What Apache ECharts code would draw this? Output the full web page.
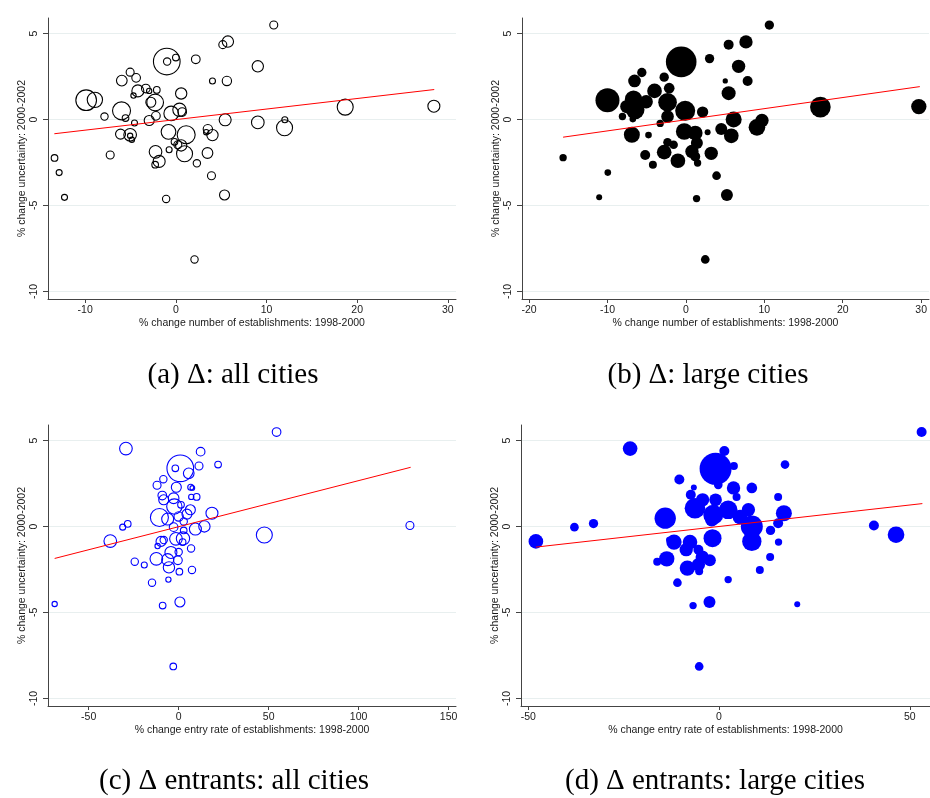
<!DOCTYPE html>
<html>
<head>
<meta charset="utf-8">
<title>Uncertainty and establishment dynamics</title>
<script src="https://cdn.jsdelivr.net/npm/echarts@6/dist/echarts.min.js"></script>
<style>
  html, body { margin: 0; padding: 0; background: #ffffff; }
  #chart { width: 930px; height: 798px; }
</style>
</head>
<body>
<div id="chart"></div>
<script>
// Each city: change in establishments (x), change in uncertainty (y), city weight (w)

// (a) all cities, change in number of establishments
const xA = [10.8, 5.74, 5.18, -1.0, -0.96, 0.0, 2.2, 9.04, -5.04, -4.38, -5.96, 4.04, 5.63, -3.31, -4.19, -2.94, -2.1, 0.59, -4.67, -9.89, -8.93, -2.28, -2.76, -5.99, -7.87, -5.55, -2.2, -0.51, 0.4, 0.7, -2.94, -4.56, 5.44, 9.04, 12.02, 11.99, 18.68, 28.46, -6.1, -5.04, -5.04, -4.85, -0.81, 1.14, 3.53, 3.35, 4.04, -0.15, 0.22, 0.59, -0.74, -2.24, 0.96, 3.49, -7.24, -13.38, -1.84, -2.28, 2.32, -12.87, 3.93, -12.28, -1.07, 5.37, 2.06];
const yA = [5.49, 4.53, 4.35, 3.37, 3.37, 3.6, 3.5, 3.09, 2.75, 2.42, 2.26, 2.24, 2.24, 1.8, 1.66, 1.66, 1.72, 1.51, 1.39, 1.12, 1.14, 0.99, 1.0, 0.5, 0.17, 0.08, 0.21, 0.35, 0.56, 0.43, -0.06, -0.21, -0.02, -0.17, -0.02, -0.48, 0.72, 0.77, -0.85, -0.89, -0.95, -1.18, -0.72, -0.89, -0.56, -0.74, -0.91, -1.3, -1.47, -1.51, -1.76, -1.88, -1.99, -1.95, -2.07, -2.24, -2.44, -2.63, -2.55, -3.09, -3.27, -4.53, -4.62, -4.39, -8.14];
const wA = [64, 128, 64, 711, 54, 44, 75, 128, 64, 75, 114, 36, 87, 75, 144, 28, 44, 128, 28, 427, 235, 278, 100, 324, 54, 44, 75, 215, 178, 75, 100, 36, 144, 160, 36, 256, 256, 144, 100, 160, 28, 28, 215, 324, 87, 28, 128, 44, 64, 128, 36, 160, 256, 114, 64, 44, 144, 44, 54, 36, 64, 36, 54, 100, 54];
const fitA = [[-13.4, -0.83], [28.5, 1.74]];

// (b) large cities, change in number of establishments
const xB = [10.64, 7.66, 5.45, -0.6, 3.02, 6.72, 5.02, 7.87, -5.62, -6.55, -2.77, 5.45, -2.13, -4.0, -10.0, -6.68, -7.53, -6.47, -5.06, -2.34, -0.09, 2.13, -8.09, -6.77, -2.34, -3.28, 6.09, 9.7, 9.06, 17.15, 29.7, -6.89, -4.77, -0.21, 1.19, 2.77, 4.51, 5.79, -2.34, -1.57, 1.4, -2.77, 0.77, -5.19, -1.02, 1.19, 1.49, 3.23, -4.21, -15.66, -9.96, 3.91, -11.06, 1.36, 5.23, 2.47];
const yB = [5.49, 4.51, 4.35, 3.35, 3.54, 3.09, 2.24, 2.24, 2.73, 2.24, 2.46, 1.53, 1.82, 1.66, 1.12, 1.18, 0.75, 0.56, 1.03, 1.0, 0.5, 0.43, 0.17, 0.02, 0.17, -0.23, 0.0, -0.06, -0.46, 0.72, 0.75, -0.89, -0.91, -0.7, -0.79, -0.75, -0.56, -0.95, -1.33, -1.47, -1.37, -1.9, -1.86, -2.07, -2.4, -2.15, -2.53, -1.97, -2.63, -2.22, -3.09, -3.27, -4.53, -4.6, -4.39, -8.14];
const wB = [87, 178, 100, 940, 87, 178, 28, 100, 87, 160, 87, 196, 114, 215, 576, 300, 178, 348, 178, 348, 400, 128, 54, 44, 160, 54, 256, 178, 278, 427, 235, 256, 44, 278, 215, 36, 144, 215, 75, 75, 144, 215, 178, 100, 215, 100, 54, 178, 64, 54, 44, 75, 36, 54, 144, 75];
const fitB = [[-15.66, -1.03], [29.83, 1.91]];

// (c) all cities, change in entry rate
const xC = [54.4, -29.3, 12.2, 0.9, -1.85, 11.3, 21.9, 5.6, -8.5, -12.0, -1.3, 6.7, 7.6, -9.1, -8.3, -2.8, 7.0, 10.0, -2.4, 1.3, 6.5, 18.5, -10.7, -6.1, 0.0, 4.6, 2.8, -28.3, -31.1, -2.8, 9.3, 14.3, 2.8, 128.5, 47.6, -38.0, -9.8, -8.3, -11.7, -1.5, 2.4, 2.2, 6.9, -4.3, 0.0, -12.4, -6.1, -0.4, -24.4, -19.1, -5.4, 0.4, 7.4, -5.7, -14.8, -68.9, -8.9, 0.7, -3.0];
const yC = [5.49, 4.53, 4.35, 3.38, 3.38, 3.52, 3.6, 3.09, 2.75, 2.4, 2.28, 2.28, 2.24, 1.8, 1.55, 1.64, 1.72, 1.72, 1.16, 1.26, 0.97, 0.77, 0.52, 0.43, 0.58, 0.72, 0.29, 0.15, -0.04, -0.04, -0.15, 0.0, -0.23, 0.06, -0.5, -0.85, -0.87, -0.79, -1.14, -0.72, -0.7, -0.91, -1.28, -1.51, -1.49, -1.88, -1.93, -1.97, -2.05, -2.24, -2.38, -2.63, -2.53, -3.09, -3.27, -4.51, -4.6, -4.39, -8.14];
const wC = [75, 160, 75, 711, 44, 64, 44, 114, 54, 64, 100, 36, 22, 75, 100, 114, 28, 44, 235, 44, 100, 144, 324, 144, 87, 100, 54, 44, 36, 75, 144, 128, 44, 64, 256, 160, 100, 54, 28, 160, 178, 44, 54, 144, 54, 160, 144, 75, 54, 36, 128, 44, 54, 28, 54, 28, 44, 100, 44];
const fitC = [[-68.9, -1.86], [128.9, 3.44]];

// (d) large cities, change in entry rate
const xD = [53.1, -23.3, 1.4, -0.9, 3.9, 17.3, -10.4, -0.2, 3.8, 8.6, -6.6, -7.4, 4.6, 15.5, -4.3, -0.9, -6.3, -14.1, -1.5, 2.4, 7.7, 17.0, 5.5, -1.9, -32.9, -37.9, 15.5, 8.6, 13.5, 40.6, 46.4, -48.0, -1.7, 8.6, 15.6, -11.8, -7.6, -13.1, -8.6, -5.4, -13.7, -16.2, -2.4, -4.4, -5.4, -8.3, -5.2, 10.7, 13.4, 2.4, -10.9, -2.5, -6.8, 20.5, -5.2];
const yD = [5.49, 4.53, 4.39, 3.35, 3.52, 3.6, 2.73, 2.42, 2.24, 2.24, 2.26, 1.84, 1.72, 1.72, 1.55, 1.55, 1.06, 0.48, 0.68, 0.97, 0.97, 0.77, 0.54, 0.39, 0.17, -0.04, 0.19, 0.0, -0.23, 0.06, -0.48, -0.87, -0.68, -0.87, -0.91, -0.91, -0.91, -0.77, -1.35, -1.35, -1.88, -2.05, -1.97, -1.78, -2.22, -2.42, -2.61, -2.53, -1.78, -3.09, -3.27, -4.39, -4.6, -4.53, -8.14];
const wD = [100, 215, 100, 1024, 64, 75, 100, 75, 178, 114, 36, 100, 64, 64, 178, 160, 427, 455, 400, 348, 178, 256, 215, 178, 87, 75, 100, 484, 87, 100, 278, 215, 324, 374, 54, 235, 215, 36, 178, 100, 235, 64, 144, 178, 178, 235, 64, 64, 64, 54, 75, 144, 54, 36, 75];
const fitD = [[-48.0, -1.2], [53.3, 1.33]];

// Axis ranges and tick labels
const xRanges = [[-14.1, 30.9], [-20.9, 31.0], [-72.6, 154.1], [-51.9, 55.3]];
const yRange = [-10.44, 5.9];
const xTicks = [[-10, 0, 10, 20, 30], [-20, -10, 0, 10, 20, 30], [-50, 0, 50, 100, 150], [-50, 0, 50]];
const yTicks = [-10, -5, 0, 5];
const xTitles = [
  '% change number of establishments: 1998-2000',
  '% change number of establishments: 1998-2000',
  '% change entry rate of establishments: 1998-2000',
  '% change entry rate of establishments: 1998-2000'
];
const yTitle = '% change uncertainty: 2000-2002';
const captions = ['(a) \u0394: all cities', '(b) \u0394: large cities', '(c) \u0394 entrants: all cities', '(d) \u0394 entrants: large cities'];

const panels = [
  { x: xA, y: yA, w: wA, fit: fitA, color: '#000000', hollow: true },
  { x: xB, y: yB, w: wB, fit: fitB, color: '#000000', hollow: false },
  { x: xC, y: yC, w: wC, fit: fitC, color: '#0000ff', hollow: true },
  { x: xD, y: yD, w: wD, fit: fitD, color: '#0000ff', hollow: false }
];

// Plot-region placement of the four panels
const gridBoxes = [
  { left: 48, top: 18, width: 408, height: 281 },
  { left: 522, top: 18, width: 408, height: 281 },
  { left: 48, top: 425, width: 408, height: 281 },
  { left: 521, top: 425, width: 409, height: 281 }
];
const captionPos = [[233, 375], [708, 375], [234, 781], [715, 781]];

const axisColor = '#444444';
const textColor = '#1a1a1a';
const sansFont = '"Liberation Sans", Arial, Helvetica, sans-serif';
const serifFont = '"Liberation Serif", "Times New Roman", serif';

const grids = [], xAxes = [], yAxes = [], series = [], graphics = [];

panels.forEach((p, i) => {
  grids.push(Object.assign({ containLabel: false }, gridBoxes[i]));

  xAxes.push({
    type: 'value', gridIndex: i,
    min: xRanges[i][0], max: xRanges[i][1],
    name: xTitles[i], nameLocation: 'middle', nameGap: 19,
    nameTextStyle: { fontFamily: sansFont, fontSize: 10.5, color: textColor },
    axisLine: { show: true, onZero: false, lineStyle: { color: axisColor, width: 1 } },
    axisTick: { show: true, customValues: xTicks[i], length: 4, lineStyle: { color: axisColor, width: 1 } },
    axisLabel: { show: true, customValues: xTicks[i], margin: 6, fontFamily: sansFont, fontSize: 10.5, color: textColor },
    splitLine: { show: false }
  });

  yAxes.push({
    type: 'value', gridIndex: i,
    min: yRange[0], max: yRange[1],
    name: yTitle, nameLocation: 'middle', nameRotate: 90, nameGap: 20,
    nameTextStyle: { fontFamily: sansFont, fontSize: 10.5, color: textColor },
    axisLine: { show: true, onZero: false, lineStyle: { color: axisColor, width: 1 } },
    axisTick: { show: true, customValues: yTicks, length: 5, lineStyle: { color: axisColor, width: 1 } },
    axisLabel: { show: true, customValues: yTicks, rotate: 90, margin: 8, fontFamily: sansFont, fontSize: 10.5, color: textColor },
    splitLine: { show: true, lineStyle: { color: '#e8efef', width: 1 } }
  });

  const pts = p.x.map((xv, k) => [xv, p.y[k], p.w[k]]);
  series.push({
    type: 'scatter', xAxisIndex: i, yAxisIndex: i, z: 2,
    data: pts,
    symbol: 'circle',
    symbolSize: (val) => Math.sqrt(val[2]),
    itemStyle: p.hollow
      ? { color: 'rgba(0,0,0,0)', borderColor: p.color, borderWidth: 1.1, opacity: 1 }
      : { color: p.color, borderWidth: 0, opacity: 1 },
    emphasis: { disabled: true },
    silent: true
  });

  series.push({
    type: 'line', xAxisIndex: i, yAxisIndex: i, z: 4,
    data: p.fit,
    symbol: 'none',
    lineStyle: { color: '#ff0000', width: 1 },
    emphasis: { disabled: true },
    silent: true
  });

  graphics.push({
    type: 'text',
    x: captionPos[i][0], y: captionPos[i][1],
    style: {
      text: captions[i], fill: '#000000',
      font: '29px ' + serifFont,
      textAlign: 'center', textVerticalAlign: 'middle'
    }
  });
});

const chart = echarts.init(document.getElementById('chart'), null, { renderer: 'canvas' });
chart.setOption({
  backgroundColor: '#ffffff',
  animation: false,
  grid: grids,
  xAxis: xAxes,
  yAxis: yAxes,
  series: series,
  graphic: graphics
});
</script>
</body>
</html>
